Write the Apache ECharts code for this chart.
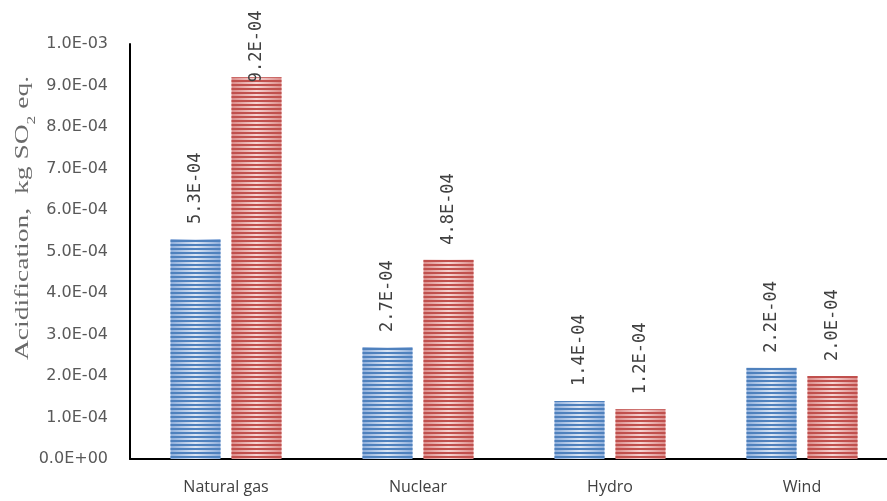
<!DOCTYPE html>
<html>
<head>
<meta charset="utf-8">
<script src="https://cdn.jsdelivr.net/npm/echarts@6/dist/echarts.min.js"></script>
<style>
  html, body { margin: 0; padding: 0; background: #fff; overflow: hidden; }
  /* The plot runs a little past the right edge of the window */
  #chart { width: 898px; height: 501px; }
</style>
</head>
<body>
<div id="chart"></div>
<script>
// Acidification potential per energy source, two scenarios
const categories = ['Natural gas', 'Nuclear', 'Hydro', 'Wind'];
const seriesA = [5.3e-4, 2.7e-4, 1.4e-4, 2.2e-4];
const seriesB = [9.2e-4, 4.8e-4, 1.2e-4, 2.0e-4];
const yTickLabels = ['0.0E+00', '1.0E-04', '2.0E-04', '3.0E-04', '4.0E-04', '5.0E-04',
                     '6.0E-04', '7.0E-04', '8.0E-04', '9.0E-04', '1.0E-03'];

// Scientific notation with a two-digit exponent, e.g. 5.3E-04
function sci(v) {
  if (v === 0) return '0.0E+00';
  const [m, e] = v.toExponential(1).split('e');
  const n = parseInt(e, 10);
  return m + 'E' + (n < 0 ? '-' : '+') + String(Math.abs(n)).padStart(2, '0');
}

const yMax = 1.0e-3;
const yStep = 1.0e-4;

const labelBase = {
  show: true,
  position: 'top',
  rotate: 90,
  align: 'left',
  verticalAlign: 'middle',
  distance: 15,
  fontFamily: 'DejaVu Sans Mono',
  fontSize: 17,
  color: '#404040',
  formatter: p => sci(p.value)
};

// Labels that would run past the top of the plot are pulled down onto the bar
function withLabels(values) {
  return values.map(v => {
    const item = { value: v };
    if (v > 0.88 * yMax) item.label = { distance: -5 };
    return item;
  });
}

function stripedStyle(edge, mid, line) {
  return {
    color: {
      type: 'linear', x: 0, y: 0, x2: 1, y2: 0,
      colorStops: [
        { offset: 0, color: edge },
        { offset: 0.5, color: mid },
        { offset: 1, color: edge }
      ]
    },
    decal: {
      symbol: 'rect',
      symbolSize: 1,
      dashArrayX: [1, 0],
      dashArrayY: [2, 2],
      rotation: 0,
      color: line
    }
  };
}

const chart = echarts.init(document.getElementById('chart'), null, { renderer: 'canvas' });

chart.setOption({
  backgroundColor: '#ffffff',
  animation: false,
  grid: { left: 130, top: 44, right: 0, bottom: 42, containLabel: false },
  xAxis: {
    type: 'category',
    data: categories,
    axisLine: { lineStyle: { color: '#000000', width: 2 } },
    axisTick: { show: false },
    axisLabel: {
      margin: 20,
      fontFamily: 'Open Sans',
      fontSize: 16,
      color: '#404040'
    }
  },
  yAxis: {
    type: 'value',
    min: 0,
    max: yMax,
    interval: yStep,
    axisLine: { show: true, lineStyle: { color: '#000000', width: 2 } },
    axisTick: { show: false },
    splitLine: { show: false },
    axisLabel: {
      margin: 22,
      fontFamily: 'DejaVu Sans',
      fontSize: 16,
      color: '#595959',
      formatter: v => yTickLabels[Math.round(v / yStep)]
    }
  },
  graphic: [{
    type: 'text',
    x: 22,
    y: 218,
    rotation: Math.PI / 2,
    scaleX: 1.45,
    style: {
      text: '{a|Acidification,  kg SO}{s|2}{a| eq.}',
      align: 'center',
      verticalAlign: 'middle',
      fill: '#595959',
      rich: {
        a: { fontFamily: 'Liberation Serif', fontSize: 19, lineHeight: 22, fill: '#6a6a6a', verticalAlign: 'bottom' },
        s: { fontFamily: 'Liberation Serif', fontSize: 12, lineHeight: 22, fill: '#6a6a6a', verticalAlign: 'bottom', padding: [0, 0, -5, 0] }
      }
    }
  }],
  series: [
    {
      type: 'bar',
      data: withLabels(seriesA),
      barWidth: 50,
      barGap: '22%',
      itemStyle: stripedStyle('#8eaedb', '#dce6f4', '#4f81bd'),
      label: labelBase
    },
    {
      type: 'bar',
      data: withLabels(seriesB),
      barWidth: 50,
      barGap: '22%',
      itemStyle: stripedStyle('#dc8c8a', '#f6d5d4', '#c0504d'),
      label: labelBase
    }
  ]
});
</script>
</body>
</html>
